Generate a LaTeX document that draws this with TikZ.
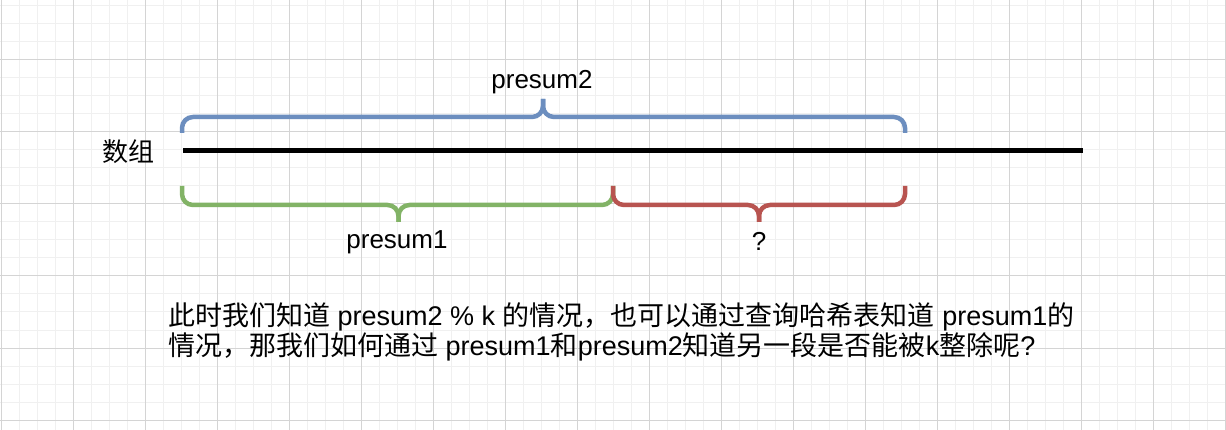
\documentclass[tikz,border=0pt]{standalone}
\usepackage{fontspec}
\setmainfont{Liberation Sans}
\newfontfamily\cjk{Noto Sans CJK SC}
\definecolor{braceblue}{HTML}{6C8EBF}
\definecolor{bracegreen}{HTML}{82B366}
\definecolor{bracered}{HTML}{B85450}
\definecolor{gridminor}{HTML}{F0F0F0}
\definecolor{gridmajor}{HTML}{D4D4D4}
\begin{document}
\begin{tikzpicture}[x=1pt,y=-1pt,
  bracestyle/.style={line width=4.5pt, rounded corners=11pt},
  lbl/.style={inner sep=0pt, font=\fontsize{26}{30}\selectfont},
  para/.style={inner sep=0pt, align=left, font=\fontsize{27}{30}\selectfont}]
\useasboundingbox (0,0) rectangle (1226,430);
\fill[white] (0,0) rectangle (1226,430);
% grid
\foreach \i in {0,...,68} {\draw[gridminor, line width=1pt] ({1+18*\i},0) -- ({1+18*\i},430);}
\foreach \j in {0,...,23} {\draw[gridminor, line width=1pt] (0,{6+18*\j}) -- (1226,{6+18*\j});}
\foreach \i in {0,...,17} {\draw[gridmajor, line width=1pt] ({1+72*\i},0) -- ({1+72*\i},430);}
\foreach \j in {0,...,5} {\draw[gridmajor, line width=1pt] (0,{60+72*\j}) -- (1226,{60+72*\j});}
% array line
\coordinate (arrL) at (183,151);
\coordinate (arrR) at (1083,151);
\draw[line width=5pt, black] (arrL) -- (arrR);
\node[lbl, font=\cjk\fontsize{26}{30}\selectfont] (arr) at (128,152) {数组};
% blue brace (presum2)
\coordinate (bL) at (182,133);
\coordinate (bR) at (905,133);
\coordinate (bM) at (543,117);
\coordinate (bT) at (543,99);
\draw[bracestyle, braceblue] (bL) |- (bM) -- (bT);
\draw[bracestyle, braceblue] (bR) |- (bM) -- (bT);
% green brace (presum1)
\coordinate (gL) at (182,186);
\coordinate (gR) at (613,186);
\coordinate (gM) at (398.5,205);
\coordinate (gT) at (398.5,222);
\draw[bracestyle, bracegreen] (gL) |- (gM) -- (gT);
\draw[bracestyle, bracegreen] (gR) |- (gM) -- (gT);
% red brace (?)
\coordinate (rL) at (613,186);
\coordinate (rR) at (905,186);
\coordinate (rM) at (759,205);
\coordinate (rT) at (759,222);
\draw[bracestyle, bracered] (rL) |- (rM) -- (rT);
\draw[bracestyle, bracered] (rR) |- (rM) -- (rT);
% labels
\node[lbl] (p2) at (542,82) {presum2};
\node[lbl] (p1) at (397,242) {presum1};
\node[lbl] (q) at (759,241) {?};
% paragraph
\node[para, anchor=base west] (txt) at (168,355) {{\cjk 此时我们知道} presum2 \% k {\cjk 的情况，也可以通过查询哈希表知道} presum1{\cjk 的}\\{\cjk 情况，那我们如何通过} presum1{\cjk 和}presum2{\cjk 知道另一段是否能被}k{\cjk 整除呢}?};
\end{tikzpicture}
\end{document}
